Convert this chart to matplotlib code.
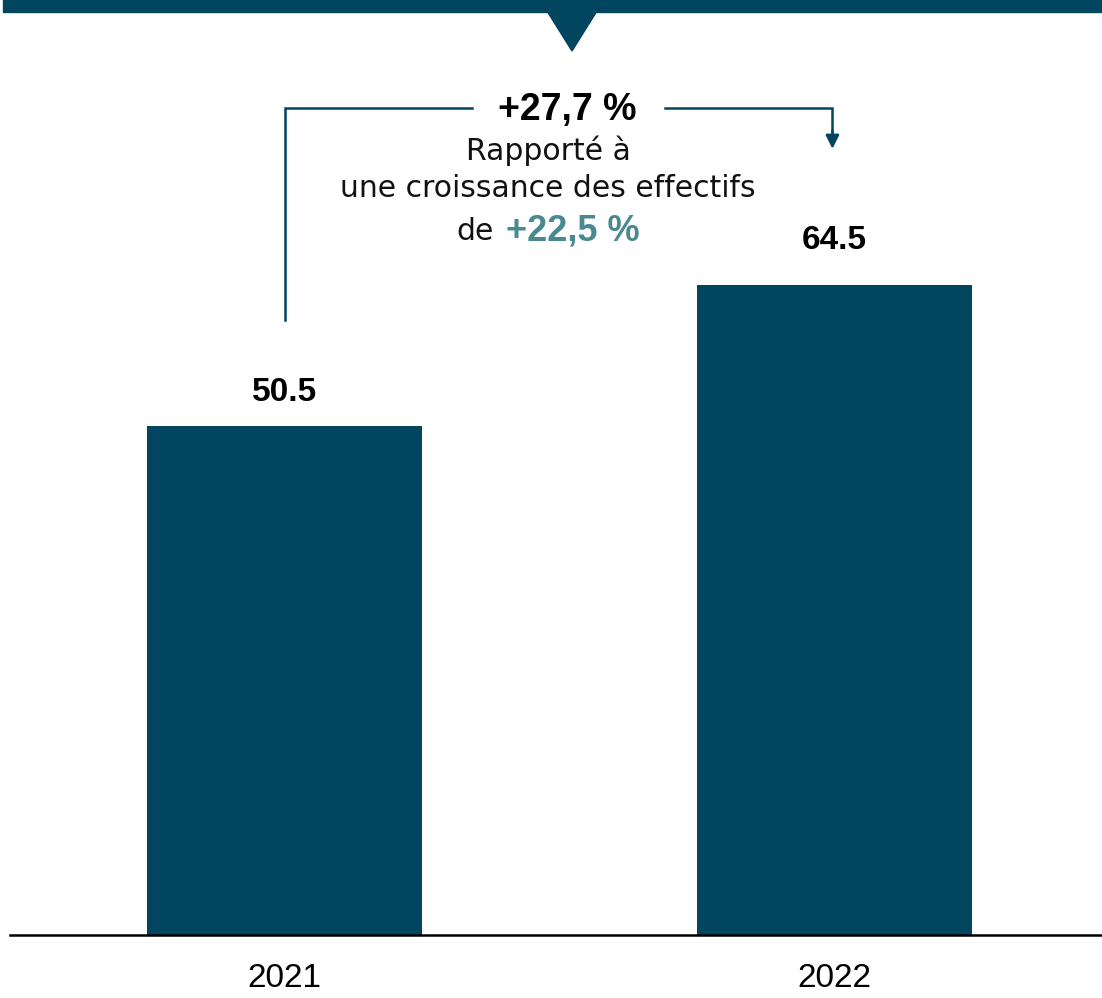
import matplotlib
matplotlib.use('Agg')
import matplotlib.pyplot as plt
from matplotlib.patches import Rectangle, Polygon

years = ['2021', '2022']
values = [50.5, 64.5]
growth_label = '+27,7 %'
staff_growth = '+22,5 %'

bar_col = '#02455F'
teal = '#4A8990'

W, H = 1102, 998
fig = plt.figure(figsize=(W / 100, H / 100), dpi=100)

# axes: left edge at px 10, bottom at px 935, reaching the top of the figure
ax = fig.add_axes([10 / W, (H - 935) / H, 1 - 10 / W, 935 / H])
ax.set_facecolor('none')

x = range(len(years))
ax.bar(x, values, width=0.5, color=bar_col)
ax.set_xlim(-0.499, 1.486)
ax.set_ylim(0, 935 / 10.08)

label_off = [18, 26]  # the labels do not sit at the same height in the original
for i, v in enumerate(values):
    ax.annotate(f'{v}', (i, v), xytext=(0, label_off[i]), textcoords='offset points',
                ha='center', va='baseline', fontsize=24, fontweight='bold',
                family='Liberation Sans')

ax.set_xticks(list(x))
ax.set_xticklabels(years, fontsize=24, family='Liberation Sans')
ax.tick_params(axis='x', length=0, pad=20)
ax.set_yticks([])
for s in ['left', 'right', 'top']:
    ax.spines[s].set_visible(False)
ax.spines['bottom'].set_linewidth(1.8)
ax.spines['bottom'].set_color('black')

# bracket from 2021 to 2022
y_top = 82.0
ax.plot([0, 0, 0.341], [61.0, y_top, y_top], color=bar_col, lw=1.8,
        solid_joinstyle='miter', clip_on=False)
ax.plot([0.692, 0.996, 0.996], [y_top, y_top, 79.5], color=bar_col, lw=1.8,
        solid_joinstyle='miter', clip_on=False)
ax.annotate('', xy=(0.996, 78.0), xytext=(0.996, 79.8),
            arrowprops=dict(arrowstyle='-|>,head_length=0.8,head_width=0.4',
                            color=bar_col, lw=1.8, shrinkA=0, shrinkB=0))

# top banner with a pointer
fig.patches.append(Rectangle((3 / W, 1 - 12 / H), 1, 12 / H,
                             transform=fig.transFigure, color=bar_col))
fig.patches.append(Polygon([(547 / W, 1 - 11 / H), (597 / W, 1 - 11 / H),
                            (572 / W, 1 - 51 / H)], closed=True,
                           transform=fig.transFigure, color=bar_col))

def fy(py):
    return 1 - py / H

txt = '#111111'
fig.text(567 / W, fy(120), growth_label, ha='center', va='baseline',
         fontsize=27, fontweight='bold', family='Liberation Sans')
fig.text(548 / W, fy(160), 'Rapporté à', ha='center', va='baseline',
         fontsize=21.5, family='DejaVu Sans', color=txt)
fig.text(548 / W, fy(197), 'une croissance des effectifs', ha='center',
         va='baseline', fontsize=21.5, family='DejaVu Sans', color=txt)
fig.text(494 / W, fy(240), 'de', ha='right', va='baseline',
         fontsize=21.5, family='DejaVu Sans', color=txt)
fig.text(506 / W, fy(240), staff_growth, ha='left', va='baseline',
         fontsize=26, fontweight='bold', family='Liberation Sans', color=teal)

plt.savefig('out.png', dpi=100)
plt.close()
